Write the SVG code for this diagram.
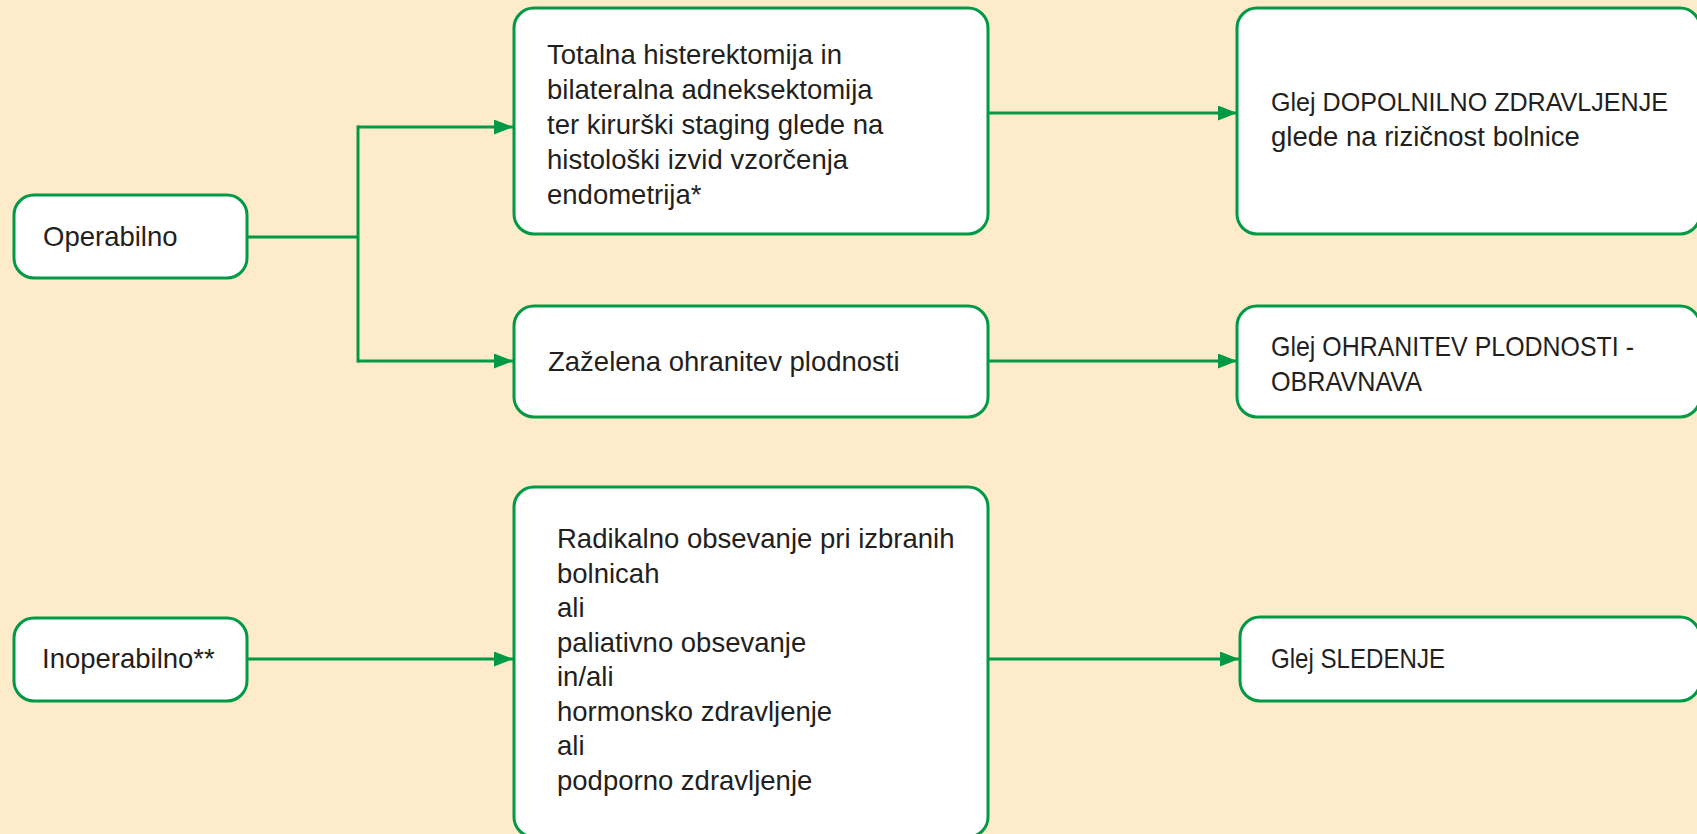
<svg xmlns="http://www.w3.org/2000/svg" width="1697" height="834" viewBox="0 0 1697 834">
  <defs>
    <style>
      .bg { fill: #FDEBC9; }
      .box { fill: #FFFFFF; stroke: #009A46; stroke-width: 3; }
      .lbl { font-family: "Liberation Sans", Arial, sans-serif; font-size: 27.5px; fill: #231F20; }
      .caps { font-size: 25.5px; }
      .wire { fill: none; stroke: #009A46; stroke-width: 3; }
      .arrow { marker-end: url(#head); }
    </style>
    <marker id="head" markerUnits="userSpaceOnUse" markerWidth="20" markerHeight="16" refX="19" refY="7.5" orient="auto">
      <path d="M0,0 L19,7.5 L0,15 Z" fill="#009A46"/>
    </marker>
  </defs>

  <rect class="bg" x="0" y="0" width="1697" height="834"/>

  <!-- connectors -->
  <g id="connectors">
    <path class="wire" d="M247,237 H358"/>
    <path class="wire" d="M358,125.5 V362.5"/>
    <path class="wire arrow" d="M358,127 H513"/>
    <path class="wire arrow" d="M358,361 H513"/>
    <path class="wire arrow" d="M988,113 H1237"/>
    <path class="wire arrow" d="M988,361 H1237"/>
    <path class="wire arrow" d="M247,659 H513"/>
    <path class="wire arrow" d="M988,659 H1239"/>
  </g>

  <!-- left column -->
  <g id="operabilno">
    <rect class="box" x="14" y="195" width="233" height="83" rx="20"/>
    <text class="lbl" x="43" y="246">Operabilno</text>
  </g>

  <g id="inoperabilno">
    <rect class="box" x="14" y="618" width="233" height="83" rx="20"/>
    <text class="lbl" x="42" y="668">Inoperabilno**</text>
  </g>

  <!-- middle column -->
  <g id="operacija">
    <rect class="box" x="514" y="8" width="474" height="226" rx="20"/>
    <text class="lbl" x="547" y="64">Totalna histerektomija in</text>
    <text class="lbl" x="547" y="99">bilateralna adneksektomija</text>
    <text class="lbl" x="547" y="134">ter kirurški staging glede na</text>
    <text class="lbl" x="547" y="169">histološki izvid vzorčenja</text>
    <text class="lbl" x="547" y="204">endometrija*</text>
  </g>

  <g id="plodnost">
    <rect class="box" x="514" y="306" width="474" height="111" rx="20"/>
    <text class="lbl" x="548" y="371">Zaželena ohranitev plodnosti</text>
  </g>

  <g id="obsevanje">
    <rect class="box" x="514" y="487" width="474" height="350" rx="20"/>
    <text class="lbl" x="557" y="548">Radikalno obsevanje pri izbranih</text>
    <text class="lbl" x="557" y="583">bolnicah</text>
    <text class="lbl" x="557" y="617">ali</text>
    <text class="lbl" x="557" y="652">paliativno obsevanje</text>
    <text class="lbl" x="557" y="686">in/ali</text>
    <text class="lbl" x="557" y="721">hormonsko zdravljenje</text>
    <text class="lbl" x="557" y="755">ali</text>
    <text class="lbl" x="557" y="790">podporno zdravljenje</text>
  </g>

  <!-- right column -->
  <g id="dopolnilno">
    <rect class="box" x="1237" y="8" width="463" height="226" rx="20"/>
    <text class="lbl caps" x="1271" y="111" textLength="397" lengthAdjust="spacingAndGlyphs">Glej DOPOLNILNO ZDRAVLJENJE</text>
    <text class="lbl" x="1271" y="146">glede na rizičnost bolnice</text>
  </g>

  <g id="ohranitev">
    <rect class="box" x="1237" y="306" width="463" height="111" rx="20"/>
    <text class="lbl" x="1271" y="356" textLength="363" lengthAdjust="spacingAndGlyphs">Glej OHRANITEV PLODNOSTI -</text>
    <text class="lbl" x="1271" y="391" textLength="151" lengthAdjust="spacingAndGlyphs">OBRAVNAVA</text>
  </g>

  <g id="sledenje">
    <rect class="box" x="1240" y="617" width="460" height="84" rx="20"/>
    <text class="lbl" x="1271" y="668" textLength="174" lengthAdjust="spacingAndGlyphs">Glej SLEDENJE</text>
  </g>
</svg>
